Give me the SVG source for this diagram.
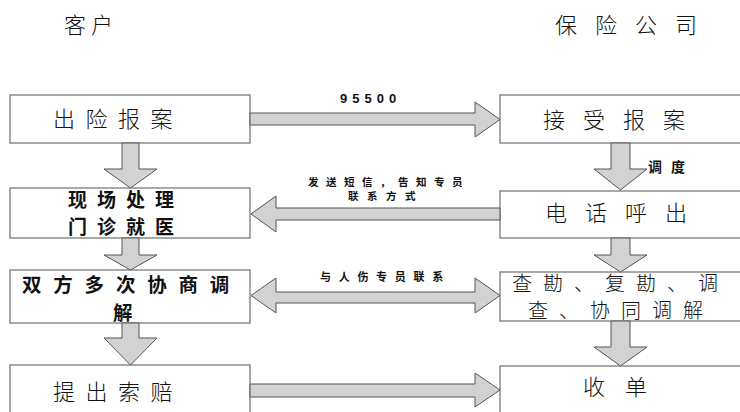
<svg xmlns="http://www.w3.org/2000/svg" width="740" height="412" viewBox="0 0 740 412">
<style>
.box{fill:#fff;stroke:#7a7a7a;stroke-width:1.3}
.arr{fill:#d2d2d2;stroke:#555;stroke-width:1}
.t{font-family:"Noto Sans CJK SC","Noto Sans CJK JP",sans-serif;font-weight:300;fill:#111}
.b{font-family:"Noto Sans CJK SC","Noto Sans CJK JP",sans-serif;font-weight:700;fill:#111}
.n{font-family:"Liberation Sans",Arial,sans-serif;font-weight:700;fill:#111}
</style>
<rect width="740" height="412" fill="#fff"/>
<g id="header-customer"><text class="t" x="64" y="33" font-size="22" letter-spacing="5">客户</text></g>
<g id="header-insurer"><text class="t" x="555" y="33" font-size="22" letter-spacing="18">保险公司</text></g>

<g id="n1"><rect class="box" x="10" y="95" width="240" height="48"/><text class="t" x="53" y="127" font-size="22" letter-spacing="10.5">出险报案</text></g>
<g id="n2"><rect class="box" x="10" y="188" width="240" height="50"/><text class="b" x="68" y="207" font-size="19" letter-spacing="10">现场处理</text><text class="b" x="68" y="234" font-size="19" letter-spacing="10">门诊就医</text></g>
<g id="n3"><rect class="box" x="10" y="270" width="240" height="53"/><text class="b" x="22" y="292" font-size="19.5" letter-spacing="11.8">双方多次协商调</text><text class="b" x="113" y="320" font-size="19.5">解</text></g>
<g id="n4"><rect class="box" x="10" y="365" width="240" height="60"/><text class="t" x="53" y="400" font-size="22" letter-spacing="10.5">提出索赔</text></g>

<g id="m1"><rect class="box" x="500" y="95" width="250" height="48"/><text class="t" x="543" y="128" font-size="22" letter-spacing="18">接受报案</text></g>
<g id="m2"><rect class="box" x="500" y="191" width="250" height="47"/><text class="t" x="545" y="221" font-size="22" letter-spacing="18">电话呼出</text></g>
<g id="m3"><rect class="box" x="500" y="272" width="250" height="49"/><text class="t" x="512" y="291" font-size="20" letter-spacing="11">查勘、复勘、调</text><text class="t" x="528" y="318" font-size="20" letter-spacing="11">查、协同调解</text></g>
<g id="m4"><rect class="box" x="500" y="366" width="250" height="60"/><text class="t" x="583" y="395" font-size="22" letter-spacing="20">收单</text></g>

<g id="connectors">
<polygon class="arr" points="250,113 475,113 475,102 500,119.5 475,137 475,125 250,125"/>
<polygon class="arr" points="500,208 276,208 276,196 251,214 276,232 276,220 500,220"/>
<polygon class="arr" points="251,295.5 276,278 276,292 475,292 475,278 500,295.5 475,313 475,303 276,303 276,313"/>
<polygon class="arr" points="250,384 475,384 475,373 500,390 475,407 475,397 250,397"/>
<polygon class="arr" points="122,143 139,143 139,169 157,169 130.5,188 104,169 122,169"/>
<polygon class="arr" points="122,238 139,238 139,255 157,255 130.5,270 104,255 122,255"/>
<polygon class="arr" points="122,323 139,323 139,338 157,338 130.5,365 104,338 122,338"/>
<polygon class="arr" points="611,143 630,143 630,169 647,169 620.5,190 594,169 611,169"/>
<polygon class="arr" points="611,238 630,238 630,255 647,255 620.5,272 594,255 611,255"/>
<polygon class="arr" points="611,321 630,321 630,347 647,347 620.5,366 594,347 611,347"/>
<text class="n" x="340" y="103" font-size="13" letter-spacing="5">95500</text>
<text class="b" x="308" y="186" font-size="10.5" letter-spacing="7.5">发送短信，告知专员</text>
<text class="b" x="348" y="200" font-size="10.5" letter-spacing="8.5">联系方式</text>
<text class="b" x="320" y="281" font-size="11" letter-spacing="7.7">与人伤专员联系</text>
<text class="b" x="648" y="172" font-size="14" letter-spacing="9">调度</text>
</g>
</svg>
